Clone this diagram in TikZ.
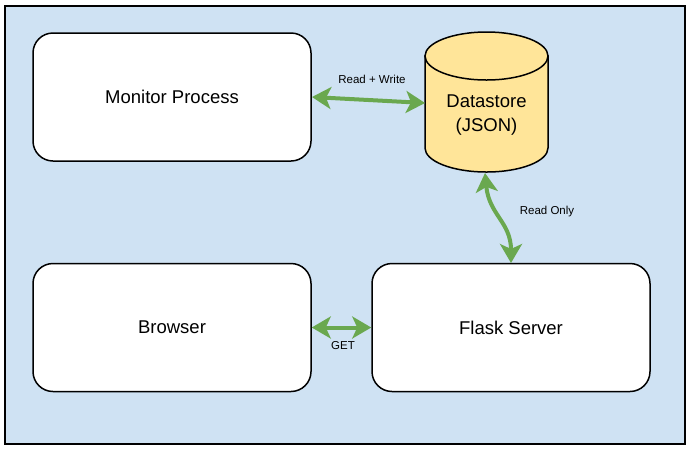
\documentclass[tikz,border=0pt]{standalone}
\usepackage{fontspec}
\setmainfont{Liberation Sans}
\usetikzlibrary{arrows.meta}
\definecolor{bgblue}{HTML}{CFE2F3}
\definecolor{dsyellow}{HTML}{FFE599}
\definecolor{arrgreen}{HTML}{6AA84F}
\tikzset{
  box/.style={draw=black, line width=1.5pt, fill=white, rounded corners=20pt, minimum width=278pt, minimum height=128pt, font=\fontsize{18.5}{22}\selectfont, inner sep=0pt},
  conn/.style={draw=arrgreen, line width=4pt, {Stealth[length=19pt,width=22pt,inset=5pt]}-{Stealth[length=19pt,width=22pt,inset=5pt]}},
  lbl/.style={font=\fontsize{11.5}{13}\selectfont, inner sep=0pt},
  cyl/.style={draw=black, line width=1.5pt, fill=dsyellow},
}
\begin{document}
\begin{tikzpicture}[x=1pt,y=-1pt]
\useasboundingbox (0,0) rectangle (690,451);
\node[draw=black, line width=1.5pt, fill=bgblue, minimum width=680pt, minimum height=438pt, anchor=north west, inner sep=0pt] (bg) at (4,5) {};
\node[box] (monitor) at (172,97) {Monitor Process};
\node[box] (browser) at (172,327.5) {Browser};
\node[box] (flask) at (511,327.5) {Flask Server};
% cylinder
\path[cyl] (425,56) -- (425,148) arc[start angle=180, end angle=0, x radius=61.5, y radius=24] -- (548,56) -- cycle;
\path[cyl] (486.5,56) ellipse[x radius=61.5, y radius=24];
\node[font=\fontsize{18.5}{24}\selectfont, align=center, inner sep=0pt] (ds) at (486.5,115) {Datastore\\(JSON)};
\coordinate (dsL) at (425,103);
\coordinate (monR) at (312,97);
\coordinate (dsB) at (485,173);
\coordinate (flT) at (511,263);
\draw[conn] (monR) -- (dsL);
\draw[conn] (dsB) .. controls (489,215) and (511,222) .. (flT);
\draw[conn] (browser.east) -- (flask.west);
\node[lbl] (rw) at (372,79) {Read + Write};
\node[lbl] (ro) at (547,212) {Read Only};
\node[lbl] (get) at (343,346) {GET};
\end{tikzpicture}
\end{document}
